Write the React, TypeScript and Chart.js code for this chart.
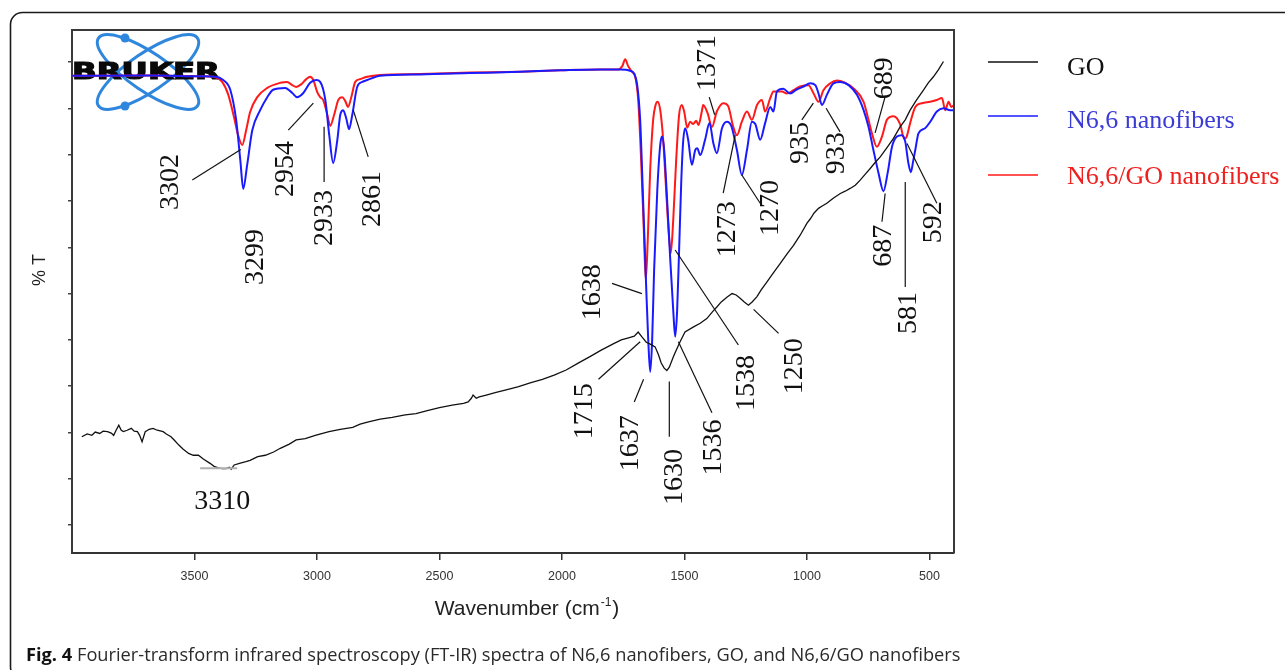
import React, { useEffect, useRef } from "react";
import { Chart, registerables } from "chart.js";

Chart.register(...registerables);

// ---------- axis ticks ----------
const WAVENUMBER_TICKS = [3500, 3000, 2500, 2000, 1500, 1000, 500];
const TRANSMITTANCE_TICKS = [0, 10, 20, 30, 40, 50, 60, 70, 80, 90, 100];

// ---------- series ----------
const SERIES_LABELS = ["GO", "N6,6 nanofibers", "N6,6/GO nanofibers"];

// [wavenumber (cm-1), %T]
const goSpectrum = [
  [3960, 19.1], [3938, 19.7], [3919, 19.4], [3905, 20.1], [3887, 19.8], [3873, 20.3], [3855, 20.2],
  [3840, 19.9], [3830, 19.4], [3820, 20.5], [3809, 21.6], [3799, 20.5], [3790, 20.2], [3775, 20.5],
  [3758, 20.9], [3746, 20.3], [3733, 20.2], [3724, 19.4], [3714, 18.0], [3707, 19.2], [3701, 20.2],
  [3685, 20.7], [3669, 20.9], [3652, 20.5], [3628, 20.2], [3615, 19.7], [3596, 19.1], [3583, 18.4],
  [3564, 17.3], [3546, 16.4], [3524, 15.5], [3505, 15.1], [3484, 15.1], [3464, 14.3], [3435, 13.3],
  [3420, 12.7], [3403, 12.4], [3387, 12.2], [3371, 12.2], [3358, 12.5], [3350, 12.1], [3338, 13.0],
  [3313, 13.4], [3290, 13.7], [3273, 14.0], [3242, 14.8], [3211, 15.1], [3177, 15.8], [3150, 16.6],
  [3113, 17.5], [3085, 18.4], [3048, 18.7], [3007, 19.4], [2951, 20.2], [2905, 20.7], [2854, 21.1],
  [2824, 21.8], [2790, 22.3], [2742, 22.9], [2693, 23.3], [2640, 23.8], [2596, 24.1], [2546, 24.8],
  [2500, 25.4], [2448, 25.9], [2402, 26.3], [2383, 26.6], [2370, 27.4], [2363, 28.1], [2350, 27.4],
  [2338, 27.7], [2309, 28.1], [2273, 28.6], [2228, 29.2], [2177, 29.9], [2130, 30.7], [2080, 31.5],
  [2032, 32.4], [1983, 33.5], [1934, 35.0], [1886, 36.4], [1840, 37.8], [1789, 39.2], [1758, 40.0],
  [1725, 40.5], [1705, 40.8], [1689, 41.7], [1673, 40.6], [1656, 39.5], [1640, 39.1], [1620, 38.5],
  [1607, 36.9], [1595, 35.0], [1583, 33.9], [1572, 33.4], [1562, 34.1], [1545, 36.4], [1532, 38.0],
  [1518, 39.6], [1498, 41.7], [1463, 42.8], [1436, 43.6], [1409, 44.6], [1387, 46.0], [1368, 47.1],
  [1350, 48.2], [1327, 49.2], [1306, 50.0], [1289, 49.7], [1273, 49.0], [1256, 48.2], [1239, 47.5],
  [1224, 48.2], [1205, 49.3], [1187, 50.8], [1164, 52.5], [1138, 54.4], [1109, 56.5], [1082, 58.5],
  [1055, 60.4], [1028, 62.6], [1000, 65.2], [987, 66.1], [971, 67.4], [953, 68.4], [938, 68.9],
  [919, 69.5], [893, 70.6], [864, 71.6], [844, 72.1], [824, 72.7], [803, 73.4], [783, 74.5],
  [762, 75.8], [742, 77.0], [722, 78.3], [701, 79.5], [675, 81.4], [647, 83.5], [620, 86.0],
  [599, 87.5], [579, 89.6], [554, 91.7], [524, 94.0], [505, 95.5], [484, 96.8], [464, 98.3], [443, 100.1],
];

const n66Spectrum = [
  [3999, 97.0], [3681, 97.1], [3477, 96.9], [3415, 96.8], [3383, 96.1], [3354, 94.0], [3330, 87.5],
  [3313, 78.8], [3301, 72.6], [3285, 77.8], [3264, 85.3], [3232, 89.6], [3203, 92.4], [3179, 94.0],
  [3130, 94.4], [3101, 93.3], [3081, 92.4], [3056, 93.3], [3028, 95.5], [3003, 96.1], [2987, 95.7],
  [2966, 91.8], [2950, 84.2], [2934, 78.2], [2917, 83.2], [2905, 88.6], [2893, 89.6], [2881, 87.9],
  [2869, 85.5], [2856, 88.6], [2836, 94.6], [2815, 95.7], [2795, 96.1], [2742, 97.0], [2579, 97.3],
  [2375, 97.6], [2171, 97.9], [2007, 98.2], [1844, 98.4], [1762, 98.4], [1722, 98.1], [1705, 97.4],
  [1693, 95.0], [1681, 87.5], [1669, 70.2], [1656, 50.8], [1648, 40.0], [1640, 33.1], [1632, 40.0],
  [1624, 55.1], [1611, 72.4], [1599, 82.1], [1592, 83.9], [1583, 81.0], [1571, 70.2], [1558, 57.2],
  [1546, 46.4], [1538, 40.7], [1530, 46.4], [1522, 59.4], [1513, 74.5], [1505, 83.2], [1497, 85.7],
  [1485, 83.2], [1470, 77.8], [1456, 81.0], [1448, 81.4], [1436, 79.9], [1416, 83.2], [1398, 86.8],
  [1382, 82.4], [1368, 80.3], [1347, 85.7], [1327, 87.1], [1309, 86.2], [1286, 81.0], [1266, 75.6],
  [1245, 81.0], [1225, 87.1], [1211, 86.6], [1191, 83.2], [1171, 86.8], [1150, 90.3], [1137, 89.3],
  [1123, 93.6], [1097, 94.2], [1069, 93.2], [1044, 94.0], [1014, 94.7], [987, 95.4], [966, 95.0],
  [953, 93.2], [939, 90.7], [919, 92.9], [892, 95.4], [864, 95.7], [830, 95.0], [796, 92.9],
  [769, 89.6], [749, 86.0], [729, 81.0], [708, 76.0], [688, 72.1], [671, 76.0], [653, 81.7],
  [633, 83.9], [613, 84.2], [599, 82.8], [586, 78.1], [576, 76.2], [566, 78.8], [558, 81.0],
  [545, 84.6], [518, 85.7], [497, 87.1], [470, 89.3], [443, 90.0], [415, 89.6], [399, 89.6],
];

const n66GoSpectrum = [
  [3999, 97.0], [3681, 97.1], [3477, 96.9], [3415, 96.7], [3387, 95.7], [3362, 92.9], [3338, 87.9],
  [3322, 84.2], [3305, 82.1], [3289, 85.3], [3273, 89.2], [3244, 92.4], [3203, 94.4], [3150, 95.5],
  [3122, 95.7], [3101, 95.0], [3085, 94.6], [3064, 95.2], [3044, 96.3], [3028, 96.8], [3015, 96.1],
  [2999, 93.5], [2987, 92.4], [2975, 91.8], [2958, 88.6], [2946, 86.2], [2930, 88.6], [2913, 91.8],
  [2897, 92.4], [2885, 91.6], [2873, 90.3], [2860, 92.4], [2844, 95.7], [2824, 96.3], [2795, 96.8],
  [2742, 97.2], [2579, 97.4], [2375, 97.7], [2171, 97.9], [2007, 98.2], [1844, 98.4], [1771, 98.4],
  [1754, 99.1], [1742, 100.6], [1730, 99.1], [1713, 97.8], [1701, 96.8], [1689, 91.8], [1677, 78.8],
  [1666, 63.7], [1658, 52.9], [1650, 61.6], [1640, 76.7], [1628, 87.5], [1618, 90.7], [1610, 91.4],
  [1599, 89.6], [1587, 83.2], [1575, 72.4], [1565, 63.7], [1556, 58.7], [1546, 65.9], [1534, 78.8],
  [1522, 88.6], [1511, 90.7], [1501, 89.2], [1489, 85.8], [1477, 87.1], [1465, 86.6], [1452, 87.3],
  [1443, 86.4], [1429, 89.4], [1424, 90.7], [1406, 89.0], [1388, 86.0], [1368, 89.3], [1342, 91.1],
  [1322, 90.5], [1301, 86.0], [1286, 84.2], [1266, 87.1], [1245, 89.3], [1225, 87.5], [1204, 90.7],
  [1184, 91.8], [1171, 89.3], [1150, 92.2], [1137, 93.6], [1102, 93.6], [1082, 93.2], [1055, 93.9],
  [1028, 94.7], [994, 95.0], [973, 93.2], [953, 91.4], [933, 93.9], [905, 95.4], [878, 96.0],
  [844, 95.5], [810, 94.3], [769, 91.4], [749, 87.5], [735, 84.6], [715, 81.7], [694, 83.9],
  [674, 87.5], [647, 88.3], [620, 86.6], [603, 83.4], [593, 83.9], [579, 86.8], [558, 90.3],
  [531, 91.1], [497, 91.4], [470, 91.8], [449, 92.2], [436, 89.6], [422, 91.4], [411, 90.3], [399, 90.7],
];

// ---------- peak annotations (text centre in data units) ----------
const peakLabels = ["3302", "3299", "2954", "2933", "2861", "1371", "1273", "1270", "935", "933", "689",
  "687", "592", "581", "1638", "1715", "1637", "1630", "1536", "1538", "1250"];
const peakLabelWavenumber = [3603, 3256, 3134, 2971, 2779, 1411, 1326, 1154, 1032, 885, 689,
  693, 489, 591, 1881, 1913, 1722, 1546, 1387, 1252, 1056];
const peakLabelT = [74.1, 57.9, 76.9, 66.3, 70.4, 99.8, 63.9, 68.5, 82.5, 80.3, 96.5,
  60.3, 65.4, 45.8, 50.3, 24.6, 17.7, 10.4, 16.8, 30.7, 34.3];
// leader lines [wavenumber, %T, wavenumber, %T]
const peakLeaders = [
  [3509, 74.5, 3311, 81.1], null, [3117, 85.3, 3015, 91.1], [2971, 86.0, 2971, 74.1],
  [2852, 89.6, 2791, 79.5], [1399, 92.4, 1377, 88.6], [1342, 71.7, 1293, 84.2],
  [1266, 75.6, 1191, 69.5], [1021, 87.5, 974, 91.1], [922, 90.0, 865, 84.9],
  [681, 92.5, 722, 84.7], [681, 71.6, 694, 65.5], [592, 82.4, 470, 69.5],
  [599, 74.1, 599, 51.4], [1796, 52.2, 1674, 50.0], [1851, 31.5, 1681, 39.6],
  [1705, 26.6, 1667, 31.5], [1562, 31.0, 1562, 19.1], [1525, 39.6, 1388, 24.3],
  [1538, 59.4, 1280, 38.9], [1218, 46.6, 1116, 41.4],
];
const goMinLabel = "3310";
const goMinLabelPos = [3387, 5.2];
const goMinMarker = [3477, 3326, 12.3];

const CAPTION_BOLD = "Fig. 4";
const CAPTION_TEXT = " Fourier-transform infrared spectroscopy (FT-IR) spectra of N6,6 nanofibers, GO, and N6,6/GO nanofibers";

const COLORS = ["#111111", "#1a1aff", "#ff1a1a"];
const LEGEND_TEXT_COLORS = ["#111111", "#3b3bd6", "#ee2020"];
const SERIF = "'Liberation Serif', 'Times New Roman', serif";
const SANS = "'Liberation Sans', Arial, sans-serif";

const decorPlugin = {
  id: "decor",
  beforeDraw(chart: any) {
    const { ctx, width, height } = chart;
    ctx.save();
    ctx.fillStyle = "#ffffff";
    ctx.fillRect(0, 0, width, height);
    // outer figure frame
    const x0 = 10.5, y0 = 12.5, x1 = width + 30, y1 = 679, r = 12;
    ctx.strokeStyle = "#1a1a1a";
    ctx.lineWidth = 1.6;
    ctx.beginPath();
    ctx.moveTo(x0 + r, y0);
    ctx.lineTo(x1, y0);
    ctx.lineTo(x1, y1);
    ctx.lineTo(x0 + r, y1);
    ctx.arcTo(x0, y1, x0, y1 - r, r);
    ctx.lineTo(x0, y0 + r);
    ctx.arcTo(x0, y0, x0 + r, y0, r);
    ctx.stroke();
    ctx.restore();
  },
  beforeDatasetsDraw(chart: any) {
    const { ctx, chartArea } = chart;
    const cx = chartArea.left + 76, cy = chartArea.top + 42;
    ctx.save();
    ctx.strokeStyle = "#2f86dd";
    ctx.fillStyle = "#2f86dd";
    ctx.lineWidth = 3;
    [0.6, -0.6].forEach((a) => {
      ctx.beginPath();
      ctx.ellipse(cx, cy, 60, 19, a, 0, Math.PI * 2);
      ctx.stroke();
    });
    [[-23, -34], [-23, 34]].forEach(([dx, dy]) => {
      ctx.beginPath();
      ctx.arc(cx + dx, cy + dy, 4.5, 0, Math.PI * 2);
      ctx.fill();
    });
    ctx.font = "bold 23px 'DejaVu Sans', sans-serif";
    const tw = ctx.measureText("BRUKER").width;
    ctx.translate(chartArea.left, cy);
    ctx.scale(148 / tw, 1);
    ctx.fillStyle = "#0a0a0a";
    ctx.strokeStyle = "#0a0a0a";
    ctx.lineWidth = 1.2;
    ctx.textBaseline = "middle";
    ctx.textAlign = "left";
    ctx.fillText("BRUKER", 0, 1);
    ctx.strokeText("BRUKER", 0, 1);
    ctx.restore();
  },
  afterDatasetsDraw(chart: any) {
    const { ctx, chartArea, scales } = chart;
    const xs = scales.x, ys = scales.y;
    ctx.save();
    // top & right frame
    ctx.strokeStyle = "#3a3a3a";
    ctx.lineWidth = 2;
    ctx.beginPath();
    ctx.moveTo(chartArea.left, chartArea.top);
    ctx.lineTo(chartArea.right, chartArea.top);
    ctx.lineTo(chartArea.right, chartArea.bottom);
    ctx.stroke();

    // leaders
    ctx.strokeStyle = "#111";
    ctx.lineWidth = 1.2;
    peakLeaders.forEach((l) => {
      if (!l) return;
      ctx.beginPath();
      ctx.moveTo(xs.getPixelForValue(l[0]), ys.getPixelForValue(l[1]));
      ctx.lineTo(xs.getPixelForValue(l[2]), ys.getPixelForValue(l[3]));
      ctx.stroke();
    });
    // rotated peak labels
    ctx.fillStyle = "#111";
    ctx.font = `28px ${SERIF}`;
    ctx.textAlign = "center";
    ctx.textBaseline = "middle";
    peakLabels.forEach((t, i) => {
      const px = xs.getPixelForValue(peakLabelWavenumber[i]);
      const py = ys.getPixelForValue(peakLabelT[i]);
      ctx.save();
      ctx.translate(px, py);
      ctx.rotate(-Math.PI / 2);
      ctx.fillText(t, 0, 1);
      ctx.restore();
    });
    // GO minimum
    ctx.strokeStyle = "#b0b0b0";
    ctx.lineWidth = 2;
    ctx.beginPath();
    ctx.moveTo(xs.getPixelForValue(goMinMarker[0]), ys.getPixelForValue(goMinMarker[2]));
    ctx.lineTo(xs.getPixelForValue(goMinMarker[1]), ys.getPixelForValue(goMinMarker[2]));
    ctx.stroke();
    ctx.fillText(goMinLabel, xs.getPixelForValue(goMinLabelPos[0]), ys.getPixelForValue(goMinLabelPos[1]) + 1);
    ctx.restore();
  },
  afterDraw(chart: any) {
    const { ctx, chartArea } = chart;
    ctx.save();
    // legend
    const lx0 = chartArea.right + 34, lx1 = chartArea.right + 84, tx = chartArea.right + 113;
    const lineY = [62, 116, 175];
    const baseY = [75, 128, 184];
    ctx.font = `26px ${SERIF}`;
    ctx.textAlign = "left";
    ctx.textBaseline = "alphabetic";
    SERIES_LABELS.forEach((s, i) => {
      ctx.strokeStyle = COLORS[i];
      ctx.lineWidth = 1.6;
      ctx.beginPath();
      ctx.moveTo(lx0, lineY[i]);
      ctx.lineTo(lx1, lineY[i]);
      ctx.stroke();
      ctx.fillStyle = LEGEND_TEXT_COLORS[i];
      ctx.fillText(s, tx, baseY[i]);
    });

    // y title
    ctx.fillStyle = "#222";
    ctx.font = `18px ${SANS}`;
    ctx.textAlign = "center";
    ctx.textBaseline = "middle";
    ctx.save();
    ctx.translate(40, 270);
    ctx.rotate(-Math.PI / 2);
    ctx.fillText("% T", 0, 0);
    ctx.restore();

    // x title with superscript
    const mainPart = "Wavenumber (cm";
    const sup = "-1";
    const close = ")";
    ctx.textBaseline = "alphabetic";
    ctx.textAlign = "left";
    ctx.font = `21px ${SANS}`;
    const w1 = ctx.measureText(mainPart).width;
    const w3 = ctx.measureText(close).width;
    ctx.font = `12px ${SANS}`;
    const w2 = ctx.measureText(sup).width;
    const total = w1 + w2 + w3 + 2;
    let x = 527 - total / 2;
    const by = 615;
    ctx.font = `21px ${SANS}`;
    ctx.fillText(mainPart, x, by);
    x += w1 + 1;
    ctx.font = `12px ${SANS}`;
    ctx.fillText(sup, x, by - 9);
    x += w2 + 1;
    ctx.font = `21px ${SANS}`;
    ctx.fillText(close, x, by);

    // caption
    const fam = "'Open Sans', 'Noto Sans', sans-serif";
    ctx.font = `bold 18px ${fam}`;
    const cb = ctx.measureText(CAPTION_BOLD).width;
    ctx.font = `18px ${fam}`;
    const ct = ctx.measureText(CAPTION_TEXT).width;
    const size = (18 * 935) / (cb + ct);
    ctx.font = `bold ${size}px ${fam}`;
    ctx.fillStyle = "#111";
    ctx.fillText(CAPTION_BOLD, 26, 661);
    const cbw = ctx.measureText(CAPTION_BOLD).width;
    ctx.font = `${size}px ${fam}`;
    ctx.fillStyle = "#2a2a2a";
    ctx.fillText(CAPTION_TEXT, 26 + cbw, 661);
    ctx.restore();
  },
};

const toPoints = (arr: number[][]) => arr.map(([x, y]) => ({ x, y }));

export default function App() {
  const ref = useRef<HTMLCanvasElement | null>(null);
  useEffect(() => {
    if (!ref.current) return;
    const chart = new Chart(ref.current, {
      type: "line",
      data: {
        datasets: [
          {
            label: SERIES_LABELS[0],
            data: toPoints(goSpectrum),
            borderColor: COLORS[0],
            borderWidth: 1.3,
            pointRadius: 0,
            tension: 0,
            order: 1,
          },
          {
            label: SERIES_LABELS[1],
            data: toPoints(n66Spectrum),
            borderColor: COLORS[1],
            borderWidth: 2,
            pointRadius: 0,
            cubicInterpolationMode: "monotone",
            order: 2,
          },
          {
            label: SERIES_LABELS[2],
            data: toPoints(n66GoSpectrum),
            borderColor: COLORS[2],
            borderWidth: 2,
            pointRadius: 0,
            cubicInterpolationMode: "monotone",
            order: 3,
          },
        ],
      },
      options: {
        responsive: false,
        devicePixelRatio: 1,
        animation: false,
        events: [],
        layout: { padding: { left: 62, right: 331, top: 30, bottom: 77 } },
        plugins: { legend: { display: false }, tooltip: { enabled: false }, title: { display: false } },
        scales: {
          x: {
            type: "linear",
            reverse: true,
            min: 400,
            max: 4000,
            afterBuildTicks: (s: any) => {
              s.ticks = WAVENUMBER_TICKS.map((v) => ({ value: v }));
            },
            afterFit: (s: any) => {
              s.height = 40;
            },
            grid: { drawOnChartArea: false, drawTicks: true, tickLength: 7, color: "#333", lineWidth: 1.5 },
            border: { display: true, color: "#333", width: 2 },
            ticks: {
              font: { family: SANS, size: 12.5 },
              color: "#333",
              padding: 9,
              maxRotation: 0,
              autoSkip: false,
              callback: (v: any) => String(v),
            },
          },
          y: {
            type: "linear",
            min: -6,
            max: 106.9,
            afterBuildTicks: (s: any) => {
              s.ticks = TRANSMITTANCE_TICKS.map((v) => ({ value: v }));
            },
            afterFit: (s: any) => {
              s.width = 10;
            },
            grid: { drawOnChartArea: false, drawTicks: true, tickLength: 4, color: "#444", lineWidth: 1.5 },
            border: { display: true, color: "#3a3a3a", width: 2 },
            ticks: { display: false },
          },
        },
      },
      plugins: [decorPlugin],
    } as any);
    return () => chart.destroy();
  }, []);
  return (
    <div style={{ position: "fixed", left: 0, top: 0, width: 1285, height: 670 }}>
      <canvas ref={ref} width={1285} height={670} style={{ display: "block", width: 1285, height: 670 }} />
    </div>
  );
}
